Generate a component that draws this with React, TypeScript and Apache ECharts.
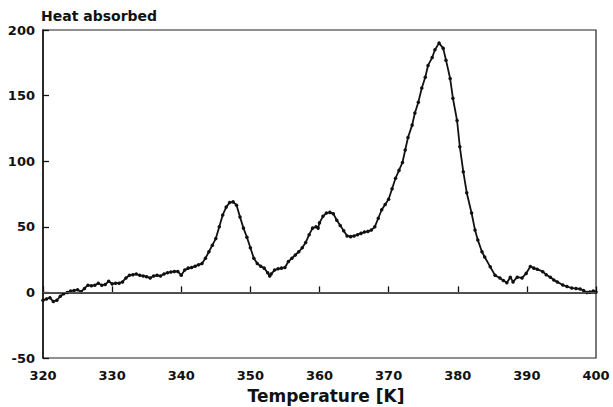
import React, { useEffect, useRef } from "react";
import * as echarts from "echarts";

const temperatures: number[] = [
  320.0, 320.5, 321.0, 321.5, 322.0, 322.5, 323.0, 323.5, 324.0, 324.5,
  325.0, 325.5, 326.0, 326.5, 327.0, 327.5, 328.0, 328.5, 329.0, 329.5,
  330.0, 330.5, 331.0, 331.5, 332.0, 332.5, 333.0, 333.5, 334.0, 334.5,
  335.0, 335.5, 336.0, 336.5, 337.0, 337.5, 338.0, 338.5, 339.0, 339.5,
  340.0, 340.5, 341.0, 341.5, 342.0, 342.5, 343.0, 343.5, 344.0, 344.5,
  345.0, 345.5, 346.0, 346.5, 347.0, 347.5, 348.0, 348.5, 349.0, 349.5,
  350.0, 350.5, 351.0, 351.5, 352.0, 352.5, 352.8, 353.0, 353.5, 354.0,
  354.5, 355.0, 355.5, 356.0, 356.5, 357.0, 357.5, 358.0, 358.5, 359.0,
  359.5, 359.8, 360.0, 360.5, 361.0, 361.5, 362.0, 362.5, 363.0, 363.5,
  364.0, 364.5, 365.0, 365.5, 366.0, 366.5, 367.0, 367.5, 368.0, 368.5,
  369.0, 369.5, 370.0, 370.5, 371.0, 371.5, 372.0, 372.4, 372.8, 373.4,
  373.8, 374.3, 374.8, 375.3, 375.7, 376.3, 376.7, 377.3, 377.9, 378.3,
  378.9, 379.3, 379.9, 380.3, 380.8, 381.3, 382.0, 382.5, 382.9, 383.5,
  383.9, 384.7, 385.4, 386.1, 386.6, 387.1, 387.6, 388.0, 388.6, 389.3,
  389.9, 390.5, 391.0, 391.5, 392.3, 392.8, 393.4, 393.9, 394.4, 395.2,
  395.8, 396.5, 397.1, 397.7, 398.2, 398.7, 399.1, 399.6, 400.0,
];

const heatAbsorbed: number[] = [
  -6, -5, -4, -7, -6, -3, -1, 0, 1, 1.5,
  2, 0.5, 3, 5.5, 5, 5.5, 7, 5.5, 6, 8.5,
  6.5, 7, 7, 8, 11, 13, 13.5, 14, 13, 12.5,
  12, 11, 12.5, 13, 12.5, 14, 15, 15.5, 16, 16,
  13, 17, 18.5, 19, 20, 21, 22, 26, 31, 36,
  41, 50, 59, 65, 68.5, 69, 66.5, 57.5, 49, 42,
  34, 26, 22, 20, 18.5, 15, 12.5, 14, 17, 18,
  18.5, 19, 23.5, 26, 28.5, 31, 34, 38, 44, 49,
  50, 49, 53, 58, 60.5, 61, 60, 55, 51, 47,
  43, 42.5, 43, 44, 45, 46, 46.5, 47.5, 50, 56.5,
  63, 67, 71, 79, 87, 93, 99, 108.5, 118, 127.5,
  136.7, 145, 155.8, 164, 173, 179, 185, 190, 186, 177,
  163, 148, 131, 111, 92, 76, 60.5, 47.5, 40, 31,
  27, 19.5, 13, 11, 9, 7.3, 11.6, 8, 11.6, 11,
  14.5, 19.8, 18.5, 17.7, 15.8, 13.5, 11.5, 9.5, 8, 5.6,
  4.5, 3.3, 3, 2.6, 1.5, 0, 0.3, 1, 0.3,
];

const xTicks = { min: 320, max: 400, interval: 10 };
const yTicks = { min: -50, max: 200, interval: 50 };

const FONT = "'DejaVu Sans', Arial, sans-serif";

export default function App() {
  const ref = useRef<HTMLDivElement>(null);

  useEffect(() => {
    document.body.style.margin = "0";
    if (!ref.current) return;
    const chart = echarts.init(ref.current, undefined, { renderer: "svg" });
    const data = temperatures.map((t, i) => [t, heatAbsorbed[i]]);
    chart.setOption({
      animation: false,
      backgroundColor: "#ffffff",
      grid: {
        left: 43,
        right: 17,
        top: 30,
        bottom: 49,
        show: true,
        borderColor: "#222",
        borderWidth: 1.2,
      },
      xAxis: {
        type: "value",
        min: xTicks.min,
        max: xTicks.max,
        interval: xTicks.interval,
        axisLine: { lineStyle: { color: "#111", width: 1.5 } },
        axisTick: { inside: true, length: 6, lineStyle: { color: "#111", width: 1.3 } },
        splitLine: { show: false },
        axisLabel: {
          color: "#111",
          fontFamily: FONT,
          fontWeight: "bold",
          fontSize: 13,
          margin: 11,
          showMinLabel: true,
          showMaxLabel: true,
        },
      },
      yAxis: {
        type: "value",
        min: yTicks.min,
        max: yTicks.max,
        interval: yTicks.interval,
        axisLine: { show: true, lineStyle: { color: "#111", width: 1.5 } },
        axisTick: { show: true, inside: true, length: 6, lineStyle: { color: "#111", width: 1.3 } },
        splitLine: { show: false },
        axisLabel: {
          color: "#111",
          fontFamily: FONT,
          fontWeight: "bold",
          fontSize: 13,
          margin: 8,
        },
      },
      graphic: [
        {
          type: "text",
          left: 41,
          top: 9,
          style: {
            text: "Heat absorbed",
            fontFamily: FONT,
            fontWeight: "bold",
            fontSize: 14,
            fill: "#111",
          },
        },
        {
          type: "text",
          x: 326,
          y: 396,
          style: {
            text: "Temperature [K]",
            fontFamily: FONT,
            fontWeight: "bold",
            fontSize: 17,
            fill: "#111",
            align: "center",
            verticalAlign: "middle",
          },
        },
      ],
      series: [
        {
          type: "line",
          data,
          showSymbol: true,
          symbol: "circle",
          symbolSize: 3.5,
          itemStyle: { color: "#111" },
          lineStyle: { color: "#111", width: 1.8 },
          markLine: {
            silent: true,
            symbol: "none",
            label: { show: false },
            lineStyle: { color: "#555", width: 1, type: "solid" },
            data: [{ yAxis: 0 }],
          },
        },
      ],
    });
    return () => chart.dispose();
  }, []);

  return <div ref={ref} style={{ width: 613, height: 407 }} />;
}
